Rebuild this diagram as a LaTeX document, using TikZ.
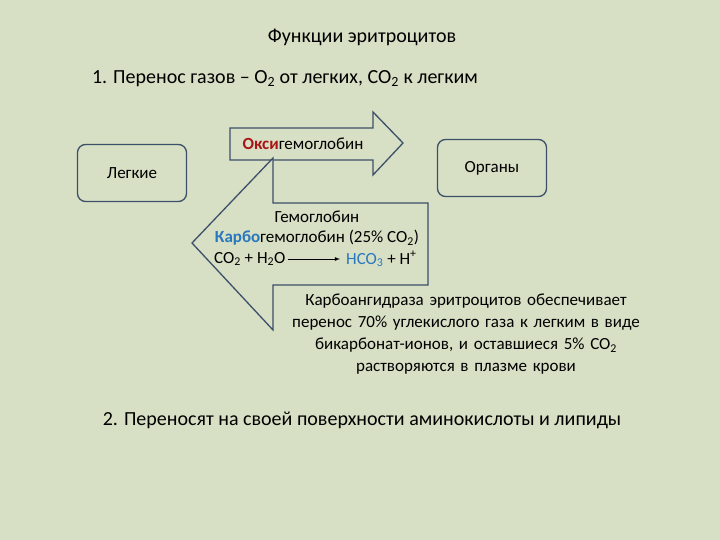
\documentclass[tikz,border=0pt]{standalone}
\usepackage{fontspec}
\setmainfont{Carlito}
\definecolor{bg}{RGB}{215,223,196}
\definecolor{ln}{RGB}{60,80,105}
\definecolor{rd}{RGB}{170,20,20}
\definecolor{bl}{RGB}{40,120,190}
\begin{document}
\begin{tikzpicture}[x=1pt,y=-1pt,
  box/.style={draw=ln,line width=1.3pt,rounded corners=8pt,fill=bg},
  arr/.style={draw=ln,line width=1.3pt,fill=bg,line join=miter},
  txt/.style={font=\fontsize{17}{22}\selectfont,align=center,inner sep=0pt}]
\fill[bg] (0,0) rectangle (720,540);
\useasboundingbox (0,0) rectangle (720,540);
\node[txt,font=\fontsize{20}{22}\selectfont] (title) at (362,37) {Функции эритроцитов};
\node[txt,font=\fontsize{20}{22}\selectfont] (l1) at (285,79) {1. Перенос газов -- O\textsubscript{2} от легких, CO\textsubscript{2} к легким};
\node[box,minimum width=109pt,minimum height=57pt,txt] (lung) at (132,173) {Легкие};
\node[box,minimum width=109pt,minimum height=57pt,txt] (org) at (492,168) {Органы};
\draw[arr] (230,128) -- (373,128) -- (373,112) -- (403,143) -- (373,175) -- (373,160) -- (230,160) -- cycle;
\draw[arr] (273,158) -- (273,203) -- (428,203) -- (428,285) -- (273,285) -- (273,330) -- (192,243) -- cycle;
\node[txt] (oxy) at (303,144) {\textcolor{rd}{\textbf{Окси}}гемоглобин};
\node[txt] (hb) at (317,217) {Гемоглобин};
\node[txt] (carb) at (317,238) {\textcolor{bl}{\textbf{Карбо}}гемоглобин (25\% CO\textsubscript{2})};
\node[txt,anchor=west] (eq1) at (214,259) {CO\textsubscript{2} + H\textsubscript{2}O};
\node[txt,anchor=west] (eq2) at (346,259) {\textcolor{bl}{HCO\textsubscript{3}} + H\textsuperscript{+}};
\draw[-latex,thick] ([xshift=2pt]eq1.east) -- ([xshift=-6pt]eq2.west);
\node[txt,text width=420pt] (desc) at (466,334) {Карбоангидраза эритроцитов обеспечивает\\перенос 70\% углекислого газа к легким в виде\\бикарбонат-ионов, и оставшиеся 5\% CO\textsubscript{2}\\растворяются в плазме крови};
\node[txt,font=\fontsize{20}{22}\selectfont] (l2) at (362,420) {2. Переносят на своей поверхности аминокислоты и липиды};
\end{tikzpicture}
\end{document}
